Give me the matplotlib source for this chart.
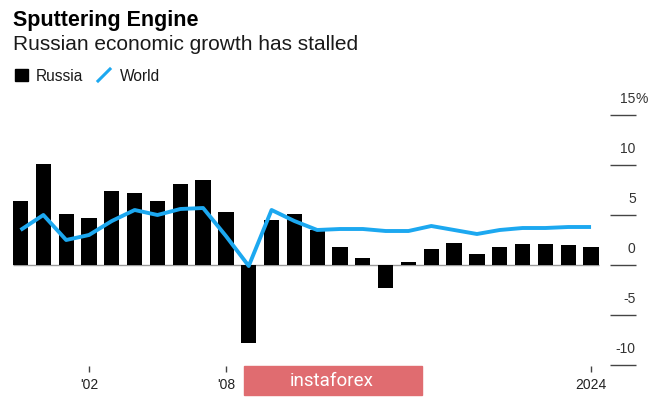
import matplotlib
matplotlib.use('Agg')
import matplotlib.pyplot as plt
from matplotlib.patches import Rectangle
from matplotlib.lines import Line2D

# Annual GDP growth, %
years = list(range(1999, 2025))
russia = [6.4, 10.1, 5.1, 4.7, 7.4, 7.2, 6.4, 8.1, 8.5, 5.3,
          -7.8, 4.5, 5.1, 3.5, 1.8, 0.7, -2.3, 0.3, 1.6, 2.2,
          1.1, 1.8, 2.1, 2.1, 2.0, 1.8]
world = [3.5, 5.0, 2.5, 3.0, 4.4, 5.5, 5.0, 5.6, 5.7, 2.9,
         -0.1, 5.5, 4.4, 3.5, 3.6, 3.6, 3.4, 3.4, 3.9, 3.5,
         3.1, 3.5, 3.7, 3.7, 3.8, 3.8]

y_ticks = [-10, -5, 0, 5, 10, 15]
x_ticks = [2002, 2008, 2024]
x_labels = ["'02", "'08", "2024"]

plt.rcParams['font.family'] = ['Liberation Sans', 'DejaVu Sans']

W, H = 665, 397
fig = plt.figure(figsize=(W / 100, H / 100), dpi=100)

# plot area in pixels (from top-left)
left, right, top, bottom = 5, 610, 100, 372
ax = fig.add_axes([left / W, 1 - bottom / H, (right - left) / W, (bottom - top) / H])

# pixel scale: 2002 sits at x=89, ~22.8 px per year; 0% at y=265, 10 px per point
px_year = 22.82
ax.set_xlim(2002 - (89 - left) / px_year, 2002 + (right - 89) / px_year)
ax.set_ylim((265 - bottom) / 10, (265 - top) / 10)

ax.bar(years, russia, width=0.67, color='black', zorder=2)
ax.hlines(0, years[0] - 0.34, years[-1] + 0.34, color='#9a9a9a', lw=1.0, zorder=1)
ax.plot(years, world, color='#1ca8f0', lw=2.8, solid_joinstyle='round',
        solid_capstyle='butt', zorder=3)

for s in ax.spines.values():
    s.set_visible(False)

ax.yaxis.tick_right()
ax.set_yticks(y_ticks)
ax.tick_params(axis='y', direction='out', length=18.5, width=1.0, color='#444444',
               labelright=False)
for v in y_ticks:
    ax.annotate(str(v), xy=(1, v), xycoords=('axes fraction', 'data'),
                xytext=(18.5, 11.5), textcoords='offset points',
                ha='right', va='center', fontsize=10, color='#333333')
ax.annotate('%', xy=(1, y_ticks[-1]), xycoords=('axes fraction', 'data'),
            xytext=(18.5, 11.5), textcoords='offset points',
            ha='left', va='center', fontsize=10, color='#333333')

ax.set_xticks(x_ticks)
ax.set_xticklabels(x_labels)
ax.tick_params(axis='x', direction='in', length=4.3, width=1.0, color='#444444',
               pad=4, labelsize=10, labelcolor='#222222')

# titles
fig.text(13 / W, 1 - 26 / H, 'Sputtering Engine', fontsize=15.5, fontweight='bold',
         color='#000000', va='baseline')
fig.text(13 / W, 1 - 50 / H, 'Russian economic growth has stalled', fontsize=15,
         color='#1a1a1a', va='baseline')

# legend
fig.add_artist(Rectangle((15 / W, 1 - 81 / H), 13 / W, 12 / H, color='black',
                         transform=fig.transFigure))
fig.text(36 / W, 1 - 81 / H, 'Russia', fontsize=11.2, color='#1a1a1a', va='baseline')
fig.add_artist(Line2D([98 / W, 110 / W], [1 - 81 / H, 1 - 69 / H], color='#1ca8f0',
                      lw=2.2, transform=fig.transFigure))
fig.text(120 / W, 1 - 81 / H, 'World', fontsize=11.2, color='#1a1a1a', va='baseline')

# watermark box
fig.add_artist(Rectangle((244 / W, 1 - 395 / H), 178 / W, 29 / H, color='#e06c70',
                         transform=fig.transFigure, zorder=5))
fig.text(332 / W, 1 - 381 / H, 'instaforex', fontsize=13.5, family='Roboto',
         color='white', ha='center', va='center', zorder=6)

fig.savefig('out.png', dpi=100)
